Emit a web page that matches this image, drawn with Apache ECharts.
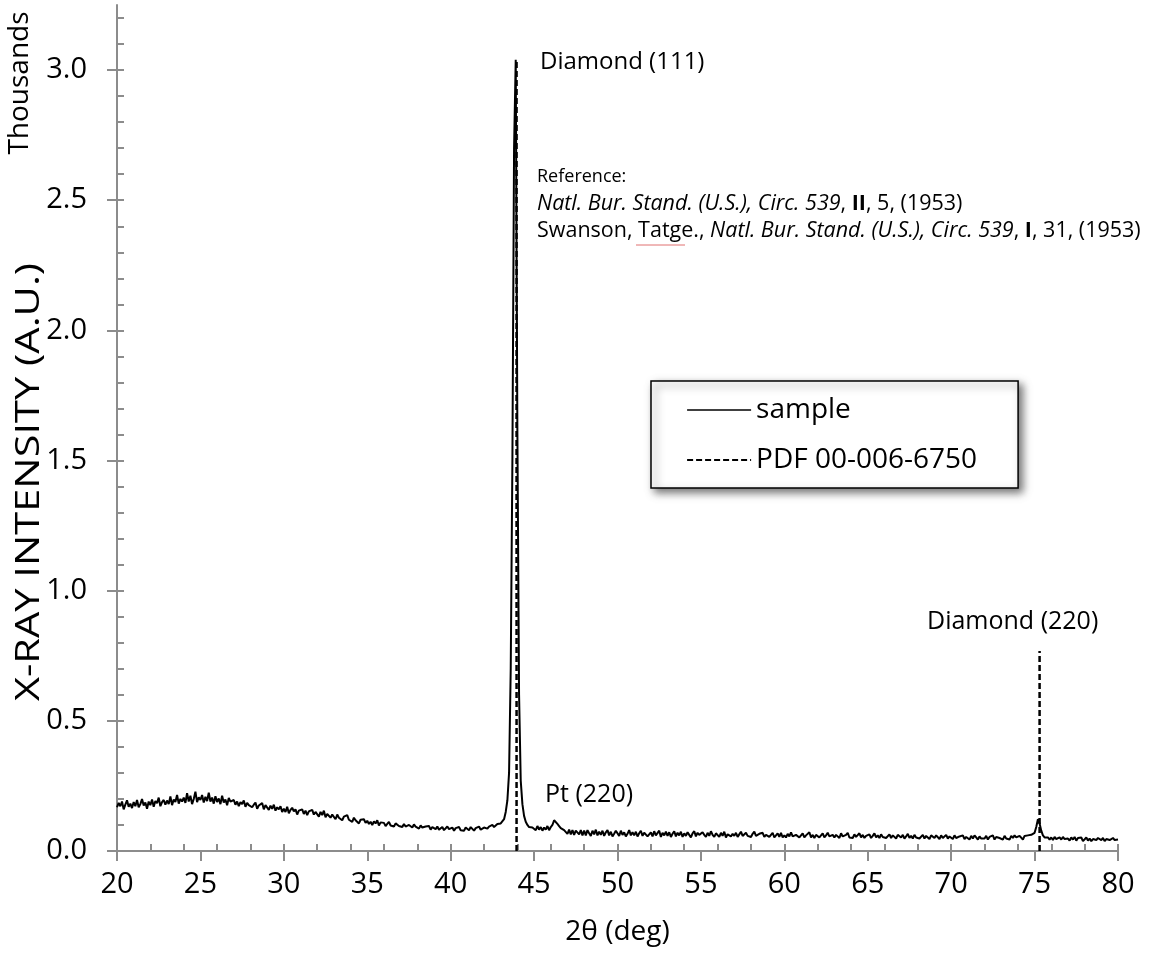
<!DOCTYPE html>
<html><head><meta charset="utf-8">
<script src="https://cdn.jsdelivr.net/npm/echarts@6/dist/echarts.min.js"></script>
<style>html,body{margin:0;padding:0;background:#fff}#c{width:1153px;height:958px}</style>
</head><body><div id="c"></div>
<script>
// 2θ scan: start and step (deg)
const scanStart = 20.0;
const scanStep = 0.1;
// sample intensity (counts), one row per degree: x.0 ... x.9
const sampleCounts = [
168,185,172,190,160,178,195,170,182,165,
188,172,196,168,180,200,175,186,162,190,
176,198,170,192,184,205,172,188,196,178,
194,180,210,176,198,188,215,182,200,190,
205,185,222,190,212,180,200,228,188,206,
196,215,186,208,192,224,190,205,182,210,
188,202,180,212,186,198,176,204,190,184,
196,178,190,172,188,180,194,170,185,176,
182,168,178,186,162,175,170,184,160,176,
170,158,174,162,178,155,168,160,172,150,
162,150,170,145,158,166,152,160,140,155,
150,160,142,155,138,152,146,158,140,150,
146,132,150,138,155,130,142,148,128,140,
136,122,140,128,134,118,132,126,138,120,
126,112,128,118,124,106,120,114,122,108,
116,104,112,100,114,106,118,98,110,104,
108,96,104,112,98,102,94,106,100,96,
100,92,104,94,88,100,96,90,102,94,
96,86,98,90,84,94,88,96,82,92,
90,84,94,82,88,92,80,86,94,84,
82,90,78,88,84,92,80,86,78,90,
84,80,92,86,78,88,84,94,82,88,
90,96,86,94,88,100,92,96,104,98,
106,112,122,150,195,300,700,1500,2700,3040,
1600,600,270,180,135,112,100,92,86,90,
88,80,96,82,92,78,90,82,96,80,
92,100,118,112,104,96,88,84,80,76,
66,82,64,80,62,78,84,64,80,60,
78,60,80,68,58,78,64,82,60,74,
62,78,58,72,80,60,74,56,66,78,
74,58,78,62,72,56,66,80,60,72,
60,74,56,68,78,58,70,74,56,64,
72,56,76,60,64,78,54,70,60,74,
58,72,54,66,76,56,70,60,74,54,
68,58,72,62,52,68,76,56,70,62,
56,72,62,54,70,58,76,62,54,68,
62,54,70,58,74,52,64,70,56,66,
58,70,54,64,74,58,52,70,58,64,
54,66,74,58,52,66,60,70,54,62,
66,54,60,70,52,60,68,54,70,52,
60,52,66,56,72,56,50,62,68,52,
56,68,52,60,56,72,52,62,50,62,
62,52,58,68,52,60,70,56,52,62,
52,62,58,50,68,56,52,62,70,52,
58,50,64,54,58,68,52,62,50,58,
54,64,50,58,68,52,60,50,64,54,
60,50,56,64,50,60,54,48,62,56,
52,62,48,56,66,50,58,48,62,52,
58,48,54,62,48,58,52,46,60,54,
50,60,54,46,60,50,56,62,48,56,
56,46,60,50,44,56,52,60,46,54,
52,44,58,48,60,52,44,56,48,54,
48,58,44,54,50,60,44,54,58,50,
54,44,58,48,54,44,58,50,60,52,
50,58,52,44,58,52,60,56,62,64,
70,92,122,106,78,60,52,46,52,44,
52,42,54,46,40,52,44,54,46,40,
48,40,52,44,54,40,50,44,52,38,
44,52,40,48,38,46,52,42,50,44,
42,50,38,46,52,42,38,50,42,46,
44
];
// reference pattern PDF 00-006-6750 (diamond)
const refTwoTheta = [43.95, 75.3];
const refCounts = [3040, 768];
// axis ticks
const yMajorTicks = [0,500,1000,1500,2000,2500,3000];
const yMinorTicks = [0,100,200,300,400,500,600,700,800,900,1000,1100,1200,1300,1400,1500,1600,1700,1800,1900,2000,2100,2200,2300,2400,2500,2600,2700,2800,2900,3000,3100,3200];

const FONT = '"Open Sans", "Noto Sans", sans-serif';
const AXIS_GREY = '#8c8c8c';

const sampleData = sampleCounts.map((v, i) => [+(scanStart + i * scanStep).toFixed(1), v]);
const refData = [];
refTwoTheta.forEach((x, i) => {
  refData.push([x, 0], [x, refCounts[i]], [x, '-']);
});

const richStyles = {
  i: {fontStyle: 'italic', fontSize: 21.5, fontFamily: FONT, fill: '#000'},
  b: {fontWeight: 'bold', fontSize: 21.5, fontFamily: FONT, fill: '#000'}
};

const chart = echarts.init(document.getElementById('c'), null, {renderer: 'canvas'});
chart.setOption({
  animation: false,
  backgroundColor: '#fff',
  grid: {left: 117, right: 35, top: 5, bottom: 107, containLabel: false},
  xAxis: [
    {
      type: 'value', min: 20, max: 80, interval: 5, position: 'bottom',
      axisLine: {lineStyle: {color: AXIS_GREY, width: 2}},
      axisTick: {show: true, inside: false, length: 10, lineStyle: {color: AXIS_GREY, width: 2}},
      axisLabel: {fontSize: 29, color: '#000', fontFamily: FONT, margin: 19},
      splitLine: {show: false},
      name: '2θ (deg)', nameLocation: 'middle', nameGap: 67,
      nameTextStyle: {fontSize: 28, color: '#000', fontFamily: FONT}
    },
    {
      type: 'value', min: 20, max: 80, interval: 2, position: 'bottom',
      axisLine: {show: false},
      axisTick: {show: true, inside: true, length: 7, lineStyle: {color: AXIS_GREY, width: 2}},
      axisLabel: {show: false},
      splitLine: {show: false}
    }
  ],
  yAxis: [
    {
      type: 'value', min: 0, max: 3250, interval: 500, position: 'left',
      axisLine: {show: true, lineStyle: {color: AXIS_GREY, width: 2}},
      axisTick: {show: true, inside: false, length: 10, customValues: yMajorTicks, lineStyle: {color: AXIS_GREY, width: 2}},
      axisLabel: {fontSize: 29, color: '#000', fontFamily: FONT, margin: 30, customValues: yMajorTicks,
        formatter: v => (v / 1000).toFixed(1)},
      splitLine: {show: false}
    },
    {
      type: 'value', min: 0, max: 3250, interval: 100, position: 'left',
      axisLine: {show: false},
      axisTick: {show: true, inside: true, length: 7, customValues: yMinorTicks, lineStyle: {color: AXIS_GREY, width: 2}},
      axisLabel: {show: false},
      splitLine: {show: false}
    }
  ],
  legend: {
    data: [
      {name: 'sample', lineStyle: {width: 1.4}},
      {name: 'PDF 00-006-6750', lineStyle: {width: 2.2}}
    ],
    orient: 'vertical', left: 651, top: 381,
    padding: [14, 41, 13, 35],
    itemWidth: 64, itemHeight: 2, itemGap: 20,
    itemStyle: {opacity: 0},
    textStyle: {fontSize: 28, color: '#000', fontFamily: FONT, lineHeight: 30},
    backgroundColor: '#fff', borderColor: '#000', borderWidth: 1.5,
    shadowColor: 'rgba(0,0,0,0.55)', shadowBlur: 8, shadowOffsetX: 4, shadowOffsetY: 4
  },
  series: [
    {
      name: 'sample', type: 'line', data: sampleData, xAxisIndex: 0, yAxisIndex: 0,
      symbol: 'none', showSymbol: false, smooth: false,
      lineStyle: {color: '#000', width: 2},
      itemStyle: {color: '#000'}, z: 3
    },
    {
      name: 'PDF 00-006-6750', type: 'line', data: refData, xAxisIndex: 0, yAxisIndex: 0,
      symbol: 'none', showSymbol: false, connectNulls: false,
      lineStyle: {color: '#000', width: 2.5, type: [6, 3]},
      itemStyle: {color: '#000'}, z: 4
    }
  ],
  graphic: [
    {type: 'text', x: 20, y: 83, rotation: Math.PI / 2,
      style: {text: 'Thousands', font: '28px ' + FONT, fill: '#000', align: 'center', verticalAlign: 'middle'}},
    {type: 'text', x: 30, y: 482, rotation: Math.PI / 2, scaleX: 1.3,
      style: {text: 'X-RAY INTENSITY (A.U.)', font: '32px ' + FONT, fill: '#000', align: 'center', verticalAlign: 'middle'}},
    {type: 'text', x: 540, y: 62,
      style: {text: 'Diamond (111)', font: '24px ' + FONT, fill: '#000', align: 'left', verticalAlign: 'middle'}},
    {type: 'text', x: 537, y: 177,
      style: {text: 'Reference:', font: '18px ' + FONT, fill: '#000', align: 'left', verticalAlign: 'middle'}},
    {type: 'text', x: 537, y: 204,
      style: {text: '{i|Natl. Bur. Stand. (U.S.), Circ. 539}, {b|II}, 5, (1953)', font: '21.5px ' + FONT, fill: '#000',
        align: 'left', verticalAlign: 'middle', rich: richStyles}},
    {type: 'text', x: 537, y: 231,
      style: {text: 'Swanson, Tatge., {i|Natl. Bur. Stand. (U.S.), Circ. 539}, {b|I}, 31, (1953)', font: '21.5px ' + FONT, fill: '#000',
        align: 'left', verticalAlign: 'middle', rich: richStyles}},
    {type: 'line', shape: {x1: 636, y1: 245, x2: 685, y2: 245}, style: {stroke: '#e07070', lineWidth: 1}},
    {type: 'text', x: 927, y: 622,
      style: {text: 'Diamond (220)', font: '25px ' + FONT, fill: '#000', align: 'left', verticalAlign: 'middle'}},
    {type: 'text', x: 545, y: 795,
      style: {text: 'Pt (220)', font: '25px ' + FONT, fill: '#000', align: 'left', verticalAlign: 'middle'}}
  ]
});
</script>
</body></html>
